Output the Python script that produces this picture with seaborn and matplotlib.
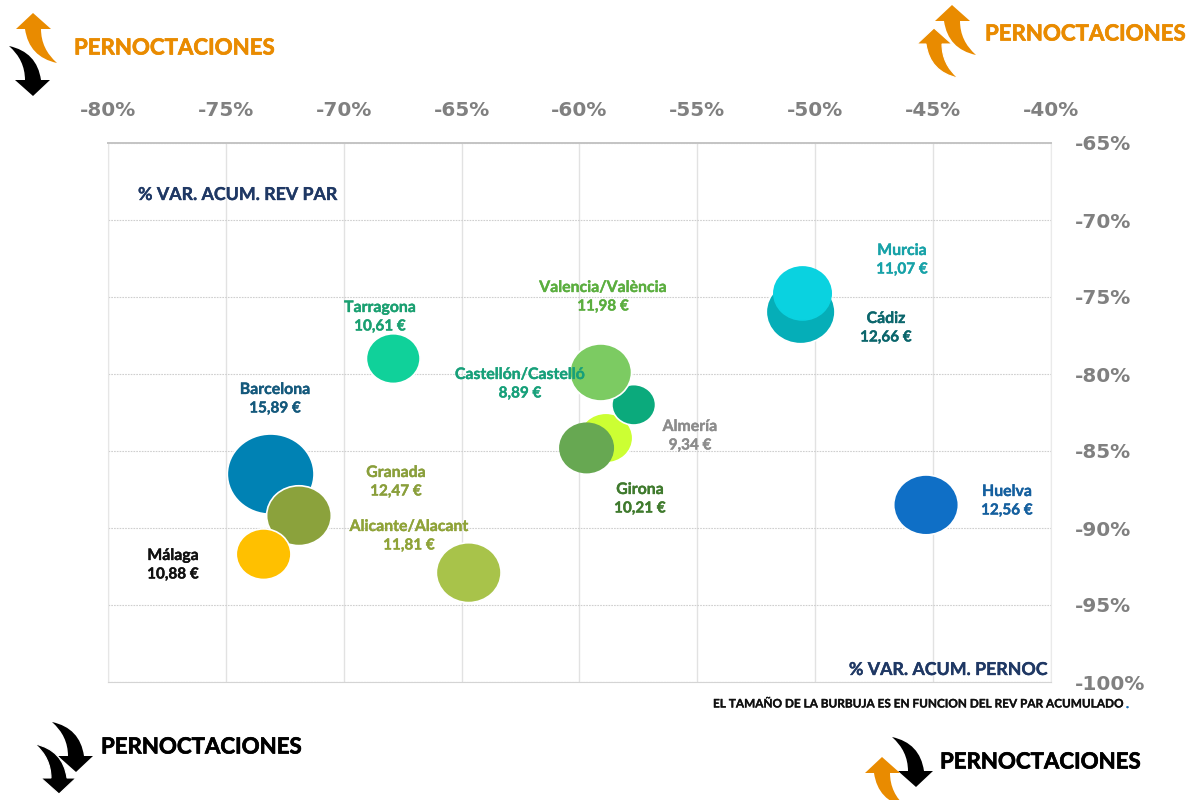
import seaborn as sns
from matplotlib import pyplot as plt
from matplotlib import patheffects as pe
from matplotlib.patches import PathPatch
from matplotlib.path import Path
from matplotlib.transforms import Affine2D
import numpy as np
import pandas as pd

# draw order matters, later bubbles overlap earlier ones
ciudades = ['Barcelona', 'Granada', 'Málaga', 'Alicante/Alacant', 'Tarragona', 'Almería',
            'Castellón/Castelló', 'Valencia/València', 'Girona', 'Cádiz', 'Murcia', 'Huelva']
pernoc = [-73.1, -71.9, -73.4, -64.7, -67.9, -58.88, -57.7, -59.1, -59.7, -50.62, -50.54, -45.3]
revpar_var = [-86.5, -89.2, -91.7, -92.9, -79.0, -84.16, -82.0, -79.9, -84.8, -75.97, -74.77, -88.5]
revpar = [15.89, 12.47, 10.88, 11.81, 10.61, 9.34, 8.89, 11.98, 10.21, 12.66, 11.07, 12.56]
revpar_txt = ['15,89 €', '12,47 €', '10,88 €', '11,81 €', '10,61 €', '9,34 €',
              '8,89 €', '11,98 €', '10,21 €', '12,66 €', '11,07 €', '12,56 €']
x_ticks = [-80, -75, -70, -65, -60, -55, -50, -45, -40]
y_ticks = [-65, -70, -75, -80, -85, -90, -95, -100]

# bubble widths as seen in the picture, in pixels (Girona, Murcia have no white edge)
ancho_px = [85, 63, 53, 63, 52, 52, 42, 60, 51.6, 67, 55.6, 63]
colores = ['#0082B4', '#8BA23C', '#FFC000', '#A8C34A', '#10D19A', '#CCFF33',
           '#0BAA7C', '#7CCB62', '#67A852', '#05AEB8', '#0AD2E0', '#0F6FC6']
bordes = ['white', 'white', 'white', 'white', 'white', 'white',
          'white', 'white', '#67A852', 'white', '#0AD2E0', 'white']
colores_txt = ['#14597C', '#8A9F3B', '#111111', '#8FA338', '#1AA071', '#8C8C8C',
               '#17A07A', '#5BAE3F', '#3F7A2D', '#0B666C', '#17A2A8', '#15609F']
# label centres in image pixels (name line)
label_px = [(275, 390), (396, 473), (173, 556), (409, 527), (380, 308), (690, 427),
            (520, 375), (603, 288), (640, 490), (886, 319), (902, 251), (1007, 492)]

W, H = 1187, 800
ORANGE = '#E98B00'
NAVY = '#1F3864'
plt.rcParams['font.family'] = ['Lato', 'DejaVu Sans']
fig = plt.figure(figsize=(W / 100, H / 100), dpi=100)
ax = fig.add_axes([108 / W, 1 - 682 / H, 943 / W, 539 / H])


def ptext(x, y, s, color, stroke=0.25, **kw):
    t = fig.text(x / W, 1 - y / H, s, color=color, fontweight='bold', va='center', **kw)
    t.set_path_effects([pe.withStroke(linewidth=stroke, foreground=color)])
    return t


def arrow(tip_x, tip_y, color, down=False, edge='none'):
    # curved block arrow, local coords are pixels from the tip (y down)
    verts = [(0, 0), (18, 16), (8, 16), (8, 36), (24, 50), (-4, 44), (-8, 16), (-17, 16), (0, 0)]
    codes = [Path.MOVETO, Path.LINETO, Path.LINETO, Path.CURVE3, Path.CURVE3,
             Path.CURVE3, Path.CURVE3, Path.LINETO, Path.CLOSEPOLY]
    verts = np.array(verts, dtype=float)
    if down:
        verts = -verts
    verts = verts + [tip_x, tip_y]
    verts[:, 1] = H - verts[:, 1]
    fig.add_artist(PathPatch(Path(verts, codes), facecolor=color, edgecolor=edge, lw=0.8,
                             transform=Affine2D(), clip_on=False))


df = pd.DataFrame({'ciudad': ciudades, 'pernoc': pernoc, 'revpar_var': revpar_var, 'revpar': revpar})
tallas = {r: ((a + 1.7) * 0.72) ** 2 for r, a in zip(revpar, ancho_px)}
bubble = Path.unit_circle().transformed(Affine2D().scale(1, 0.925))
sns.scatterplot(data=df, x='pernoc', y='revpar_var', hue='ciudad', palette=colores, size='revpar',
                sizes=tallas, marker=bubble, edgecolor=bordes, linewidth=1.2,
                alpha=1, legend=False, ax=ax, zorder=3)

ax.set_xlim(-80, -40)
ax.set_ylim(-100, -65)
ax.set_xticks(x_ticks)
ax.set_yticks(y_ticks)
ax.set_xticklabels([f'{v}%' for v in x_ticks])
ax.set_yticklabels([f'{v}%' for v in y_ticks], ha='left')
ax.xaxis.tick_top()
ax.yaxis.tick_right()
ax.tick_params(length=0, labelsize=14.4, labelcolor='#808080', pad=17)
ax.tick_params(axis='x', pad=16.5)
for lab in ax.get_xticklabels() + ax.get_yticklabels():
    lab.set_fontweight('bold')
    lab.set_fontfamily('DejaVu Sans')
ax.set_xlabel('')
ax.set_ylabel('')
ax.grid(True, axis='x', color='#E2E2E2', lw=1)
ax.grid(True, axis='y', color='#CFCFCF', lw=0.8, ls=(0, (1.5, 1)))
ax.set_axisbelow(True)
ax.spines['top'].set_color('#C4C4C4')
ax.spines['top'].set_linewidth(1.4)
ax.spines['left'].set_color('#E6E6E6')
ax.spines['right'].set_color('#EAEAEA')
ax.spines['bottom'].set_color('#D4D4D4')
ax.spines['bottom'].set_linestyle((0, (1.5, 1)))

for (x, y), name, val, col in zip(label_px, ciudades, revpar_txt, colores_txt):
    ptext(x, y, name, col, fontsize=11.4, ha='center', zorder=5)
    ptext(x, y + 18.5, val, col, fontsize=11, ha='center', zorder=5)

ptext(138, 194.5, '% VAR. ACUM. REV PAR', NAVY, fontsize=12.8)
ptext(1047, 669.5, '% VAR. ACUM. PERNOC', NAVY, fontsize=12.8, ha='right')
ptext(713, 704, 'EL TAMAÑO DE LA BURBUJA ES EN FUNCION DEL REV PAR ACUMULADO', '#111111',
      stroke=0.2, fontsize=8.5)
ptext(1126, 704, '.', '#1F6FB5', fontsize=9)

ptext(74, 48, 'PERNOCTACIONES', ORANGE, stroke=0.5, fontsize=16)
ptext(985, 34, 'PERNOCTACIONES', ORANGE, stroke=0.5, fontsize=16)
ptext(101, 747, 'PERNOCTACIONES', 'black', stroke=0.5, fontsize=16)
ptext(940, 762, 'PERNOCTACIONES', 'black', stroke=0.5, fontsize=16)

arrow(33, 13, ORANGE)
arrow(33, 96, 'black', down=True)
arrow(952, 5, ORANGE)
arrow(934, 28, ORANGE, edge='white')
arrow(76, 772, 'black', down=True)
arrow(59, 794, 'black', down=True, edge='white')
arrow(916, 787, 'black', down=True)
arrow(882, 757, ORANGE)

fig.savefig('out.png', dpi=100)
